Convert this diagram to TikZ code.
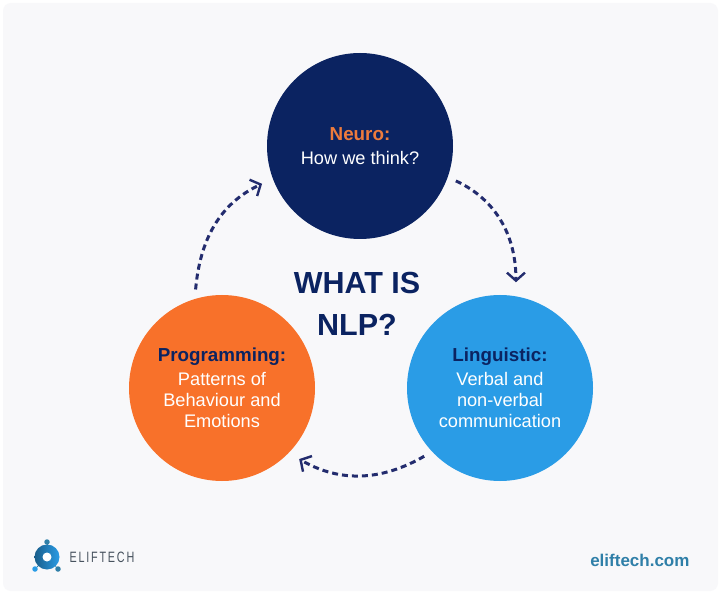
\documentclass[tikz,border=0pt]{standalone}
\usepackage{fontspec}
\setmainfont{Liberation Sans}
\usetikzlibrary{arrows.meta, positioning}

\definecolor{panelgray}{HTML}{F8F8FA}
\definecolor{navy}{HTML}{0B2361}
\definecolor{arrownavy}{HTML}{232C6E}
\definecolor{orangefill}{HTML}{F8712A}
\definecolor{bluefill}{HTML}{2A9CE6}
\definecolor{headorange}{HTML}{EE7B3C}
\definecolor{logotext}{HTML}{47525E}
\definecolor{urlblue}{HTML}{2F7FA8}

\newcommand{\topichead}[2]{\textcolor{#1}{\fontsize{18.8}{21}\selectfont\bfseries #2}}

\tikzset{
  topic/.style = {circle, minimum size = 186pt, inner sep = 0pt, outer sep = 9pt,
    align = center, text = white, font = \fontsize{18.2}{21}\selectfont},
  loopstep/.style = {arrownavy, line width = 3pt, dash pattern = on 6pt off 4pt,
    -{Straight Barb[length = 8pt, width = 18pt, line width = 2.4pt]}},
  dot/.style = {circle, minimum size = 5.5pt, inner sep = 0pt, fill = #1}
}

\begin{document}
\begin{tikzpicture} [x = 1pt, y = 1pt, on grid, auto]

\useasboundingbox [fill = white] (0,0) rectangle (720,595);
\fill [panelgray, rounded corners = 8pt] (3,4) rectangle (718,592);

\node (neuro) [topic, fill = navy] at (360,449)
  {\topichead{headorange}{Neuro:}\\[3pt] How we think?};
\node (linguistic) [topic, fill = bluefill, below right = 242pt and 140pt of neuro]
  {\topichead{navy}{Linguistic:}\\[3pt] Verbal and\\ non-verbal\\ communication};
\node (programming) [topic, fill = orangefill, left = 278pt of linguistic]
  {\topichead{navy}{Programming:}\\[3pt] Patterns of\\ Behaviour and\\ Emotions};

\node (title) [align = center, text = navy, font = \fontsize{30.5}{42}\selectfont\bfseries]
  at (357,291) {WHAT IS\\ NLP?};

% loop
\draw [loopstep, shorten > = 5pt] (neuro.-20) to [out = -25, in = 90] (linguistic.81);
\draw [loopstep, shorten > = 3pt] (linguistic.222) to [out = 210, in = -30] (programming.-43);
\draw [loopstep, shorten > = 3pt] (programming.105) to [out = 85, in = 205] (neuro.201);

% logo
\node (ring) [circle, minimum size = 25pt, inner sep = 0pt, left color = bluefill!60!black,
  right color = bluefill] at (47,38) {};
\node (top) [dot = urlblue, above = 15pt of ring] {};
\node (lft) [dot = bluefill, below left = 12pt and 12pt of ring] {};
\node (rgt) [dot = urlblue, below right = 12pt and 11pt of ring] {};
\draw [urlblue, line width = 1pt] (ring) -- (top);
\draw [urlblue, line width = 1pt] (ring) -- (lft);
\draw [urlblue, line width = 1pt] (ring) -- (rgt);
\node (hole) [circle, minimum size = 9pt, inner sep = 0pt, fill = white] at (ring) {};

\node (brand) [text = logotext, anchor = west,
  font = \fontsize{15}{17}\selectfont\addfontfeature{FakeStretch = 0.72, LetterSpace = 12}]
  at (66,38) {ELIFTECH};
\node (url) [text = urlblue, anchor = east, font = \fontsize{17}{20}\selectfont\bfseries]
  at (693,35) {eliftech.com};

\end{tikzpicture}
\end{document}
